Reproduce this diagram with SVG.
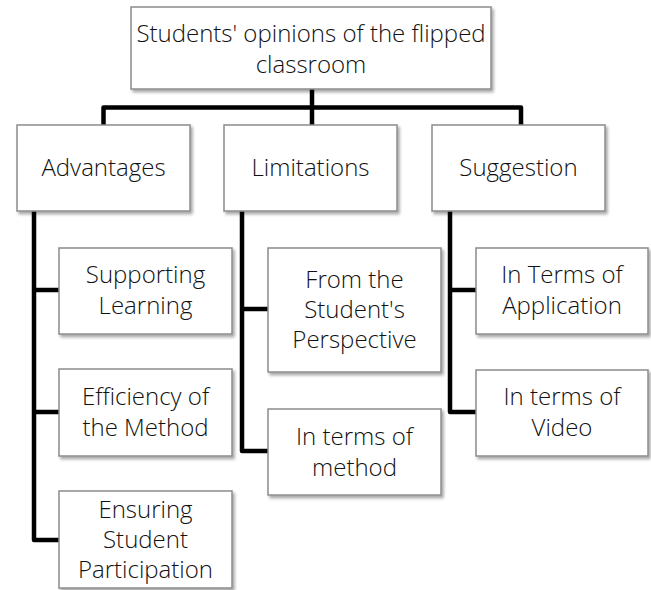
<svg xmlns="http://www.w3.org/2000/svg" width="651" height="590" viewBox="0 0 651 590">
<defs>
<filter id="sh" x="-10%" y="-10%" width="130%" height="130%">
<feDropShadow dx="2" dy="2.5" stdDeviation="1.5" flood-color="#000" flood-opacity="0.35"/>
</filter>
<style>
.box{fill:#fff;stroke:#8c8c8c;stroke-width:1.5;filter:url(#sh)}
.t{font-family:"Open Sans","Liberation Sans",sans-serif;font-size:24px;font-weight:300;fill:#111;text-anchor:middle}
.c{fill:none;stroke:#000;stroke-width:4.5;stroke-linejoin:round;stroke-linecap:butt}
</style>
</defs>
<rect width="651" height="590" fill="#fff"/>
<g id="connectors">
<path class="c" d="M312 89 V107.5"/>
<path class="c" d="M103.5 125 V107.5 H521 V125"/>
<path class="c" d="M312 107.5 V125"/>
<path class="c" d="M34 211 V540 H59"/>
<path class="c" d="M34 290 H59"/>
<path class="c" d="M34 412 H59"/>
<path class="c" d="M242 211 V451 H268"/>
<path class="c" d="M242 309 H268"/>
<path class="c" d="M450 211 V412 H476"/>
<path class="c" d="M450 290 H476"/>
</g>
<g id="root">
<rect class="box" x="131" y="7" width="360" height="82"/>
<text class="t" x="311" y="42">Students' opinions of the flipped</text>
<text class="t" x="311" y="73">classroom</text>
</g>
<g id="advantages">
<rect class="box" x="17" y="125" width="173" height="86"/>
<text class="t" x="103.5" y="176">Advantages</text>
</g>
<g id="limitations">
<rect class="box" x="224" y="125" width="173" height="86"/>
<text class="t" x="310.5" y="176">Limitations</text>
</g>
<g id="suggestion">
<rect class="box" x="432" y="125" width="173" height="86"/>
<text class="t" x="518.5" y="176">Suggestion</text>
</g>
<g id="supporting">
<rect class="box" x="59" y="248" width="173" height="86"/>
<text class="t" x="145.5" y="283">Supporting</text>
<text class="t" x="145.5" y="314">Learning</text>
</g>
<g id="efficiency">
<rect class="box" x="59" y="369" width="173" height="87"/>
<text class="t" x="145.5" y="405">Efficiency of</text>
<text class="t" x="145.5" y="436">the Method</text>
</g>
<g id="ensuring">
<rect class="box" x="59" y="491" width="173" height="97"/>
<text class="t" x="145.5" y="518">Ensuring</text>
<text class="t" x="145.5" y="548">Student</text>
<text class="t" x="145.5" y="578">Participation</text>
</g>
<g id="student-perspective">
<rect class="box" x="268" y="248" width="173" height="124"/>
<text class="t" x="354.5" y="288">From the</text>
<text class="t" x="354.5" y="318">Student's</text>
<text class="t" x="354.5" y="348">Perspective</text>
</g>
<g id="method">
<rect class="box" x="268" y="409" width="173" height="86"/>
<text class="t" x="354.5" y="445">In terms of</text>
<text class="t" x="354.5" y="476">method</text>
</g>
<g id="application">
<rect class="box" x="476" y="248" width="172" height="86"/>
<text class="t" x="562" y="283">In Terms of</text>
<text class="t" x="562" y="314">Application</text>
</g>
<g id="video">
<rect class="box" x="476" y="370" width="172" height="86"/>
<text class="t" x="562" y="405">In terms of</text>
<text class="t" x="562" y="436">Video</text>
</g>
</svg>
